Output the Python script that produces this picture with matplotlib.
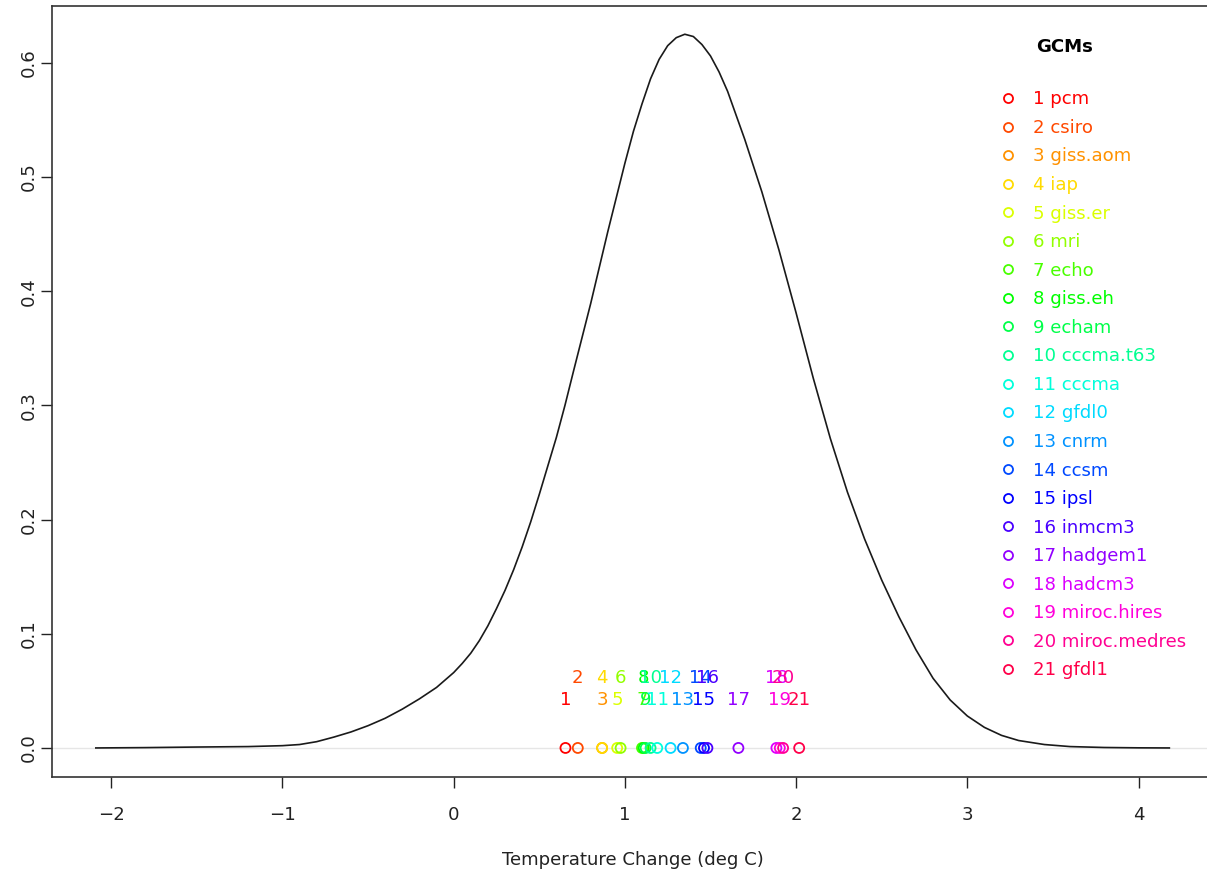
import matplotlib
matplotlib.use("Agg")
import matplotlib.pyplot as plt
from matplotlib.lines import Line2D

# density curve
dens_x = [-2.09, -1.8, -1.5, -1.2, -1.0, -0.9, -0.8, -0.7, -0.6, -0.5,
          -0.4, -0.3, -0.2, -0.1, 0.0, 0.05, 0.1, 0.15, 0.2, 0.25,
          0.3, 0.35, 0.4, 0.45, 0.5, 0.55, 0.6, 0.65, 0.7, 0.8,
          0.9, 1.0, 1.05, 1.1, 1.15, 1.2, 1.25, 1.3, 1.35, 1.4,
          1.45, 1.5, 1.55, 1.6, 1.7, 1.8, 1.9, 2.0, 2.1, 2.2,
          2.3, 2.4, 2.5, 2.6, 2.7, 2.8, 2.9, 3.0, 3.1, 3.2,
          3.3, 3.45, 3.6, 3.8, 4.0, 4.18]
dens_y = [0.0, 0.0003, 0.0008, 0.0012, 0.002, 0.003, 0.0055, 0.0095, 0.014, 0.0195,
          0.026, 0.034, 0.043, 0.053, 0.066, 0.074, 0.083, 0.094, 0.107, 0.122,
          0.138, 0.156, 0.176, 0.198, 0.222, 0.247, 0.272, 0.300, 0.330, 0.389,
          0.452, 0.512, 0.540, 0.564, 0.586, 0.603, 0.615, 0.622, 0.625, 0.623,
          0.616, 0.606, 0.592, 0.575, 0.533, 0.487, 0.436, 0.381, 0.324, 0.271,
          0.224, 0.183, 0.147, 0.115, 0.086, 0.061, 0.042, 0.028, 0.018, 0.011,
          0.0065, 0.003, 0.0012, 0.0004, 0.0001, 0.0]

gcm_names = ["pcm", "csiro", "giss.aom", "iap", "giss.er", "mri", "echo",
             "giss.eh", "echam", "cccma.t63", "cccma", "gfdl0", "cnrm", "ccsm",
             "ipsl", "inmcm3", "hadgem1", "hadcm3", "miroc.hires",
             "miroc.medres", "gfdl1"]
gcm_values = [0.653, 0.725, 0.867, 0.867, 0.955, 0.975, 1.100, 1.110, 1.121,
              1.150, 1.189, 1.267, 1.339, 1.443, 1.462, 1.482, 1.663, 1.885,
              1.905, 1.924, 2.018]
gcm_colors = ["#FF0000", "#FF4900", "#FF9200", "#FFDB00", "#DBFF00", "#92FF00",
              "#49FF00", "#00FF00", "#00FF49", "#00FF92", "#00FFDB", "#00DBFF",
              "#0092FF", "#0049FF", "#0000FF", "#4900FF", "#9200FF", "#DB00FF",
              "#FF00DB", "#FF0092", "#FF0049"]
label_y_odd = 0.042
label_y_even = 0.061

plt.rcParams["font.family"] = ["DejaVu Sans"]
FS = 13.1

W, H = 1207, 880
fig = plt.figure(figsize=(W / 100, H / 100), dpi=100)
ax = fig.add_axes([52 / W, 1 - 776.5 / H, (1213 - 52) / W, (776.5 - 5.7) / H])
ax.set_xlim(-2.346, 4.435)
ax.set_ylim(-0.025, 0.65)

ax.axhline(0, color="#e6e6e6", lw=1, zorder=1)
ax.plot(dens_x, dens_y, color="#1a1a1a", lw=1.2, zorder=2)

ax.scatter(gcm_values, [0] * len(gcm_values), s=52, facecolors="none",
           edgecolors=gcm_colors, linewidths=1.3, zorder=3)
for i, (v, c) in enumerate(zip(gcm_values, gcm_colors)):
    yy = label_y_odd if i % 2 == 0 else label_y_even
    ax.text(v, yy, str(i + 1), color=c, fontsize=FS, ha="center", va="center")

ax.set_xticks([-2, -1, 0, 1, 2, 3, 4])
ax.set_xticklabels(["\u22122", "\u22121", "0", "1", "2", "3", "4"])
ax.set_yticks([0.0, 0.1, 0.2, 0.3, 0.4, 0.5, 0.6])
ax.set_yticklabels(["0.0", "0.1", "0.2", "0.3", "0.4", "0.5", "0.6"],
                   rotation=90, va="center")
ax.tick_params(axis="x", length=8, width=1, pad=13, labelsize=FS, colors="#222222")
ax.tick_params(axis="y", length=8, width=1, pad=2, labelsize=FS, colors="#222222")
for sp in ax.spines.values():
    sp.set_color("#333333")
    sp.set_linewidth(1.2)
ax.set_xlabel("Temperature Change (deg C)", fontsize=FS, labelpad=19.5,
              color="#222222")

handles = [Line2D([], [], ls="none", marker="o", markersize=6.5, mfc="none",
                  mec=c, mew=1.3) for c in gcm_colors]
labels = [f"{i + 1} {n}" for i, n in enumerate(gcm_names)]
ax.legend(handles, labels, loc="upper left",
          bbox_to_anchor=(998.9 / W, 1 - 90.35 / H),
          bbox_transform=fig.transFigure, frameon=False, fontsize=FS,
          handlelength=1.0, handletextpad=0.874, labelspacing=0.58,
          borderpad=0, borderaxespad=0, labelcolor=gcm_colors)
fig.text(1065 / W, 1 - 47 / H, "GCMs", fontsize=FS, fontweight="bold",
         ha="center", va="center")

fig.savefig("out.png", dpi=100)
